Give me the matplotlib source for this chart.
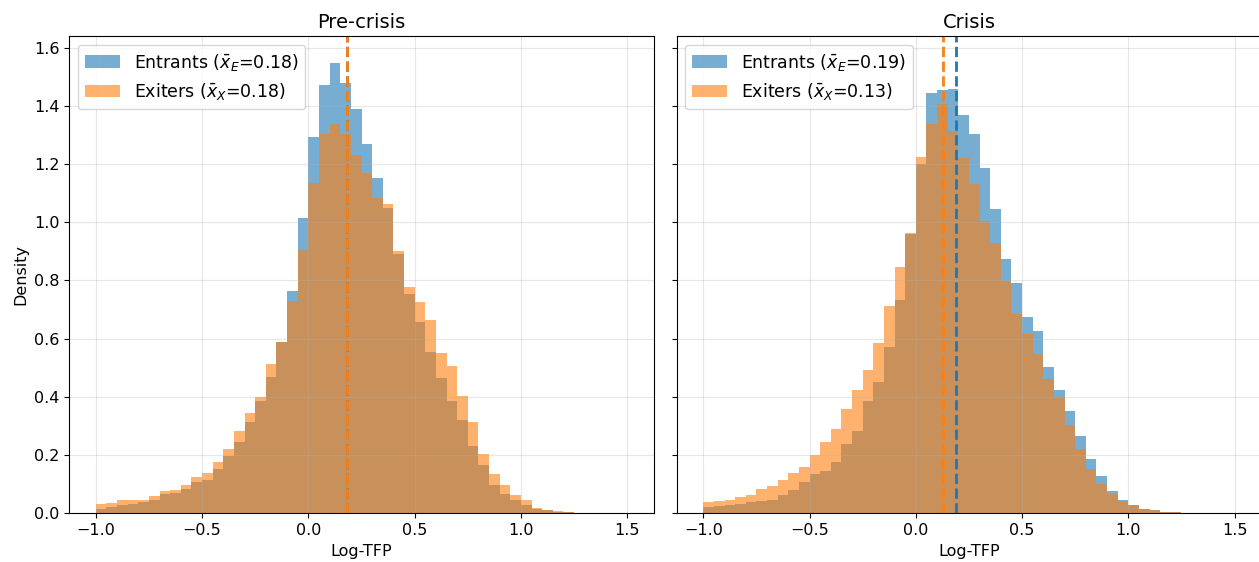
import matplotlib
matplotlib.use("agg")
import numpy as np
import matplotlib.pyplot as plt

# bin edges of the Log-TFP histograms (width 0.05)
BIN_LO = -1.0
BIN_HI = 1.5
N_BINS = 50

# density per bin
entrants_pre = [0.016, 0.022, 0.027, 0.031, 0.039, 0.044, 0.067, 0.070, 0.084, 0.107,
                0.113, 0.153, 0.198, 0.244, 0.312, 0.386, 0.468, 0.589, 0.765, 1.013,
                1.292, 1.472, 1.546, 1.477, 1.389, 1.270, 1.151, 1.050, 0.890, 0.753,
                0.656, 0.553, 0.465, 0.387, 0.319, 0.230, 0.165, 0.096, 0.067, 0.045,
                0.027, 0.016, 0.010, 0.006, 0.003, 0.002, 0.001, 0.001, 0.0, 0.0]
exiters_pre = [0.031, 0.036, 0.044, 0.044, 0.046, 0.058, 0.076, 0.081, 0.096, 0.126,
               0.138, 0.175, 0.221, 0.284, 0.346, 0.401, 0.512, 0.589, 0.728, 0.905,
               1.136, 1.304, 1.338, 1.304, 1.230, 1.170, 1.085, 1.064, 0.902, 0.776,
               0.725, 0.664, 0.550, 0.507, 0.402, 0.313, 0.205, 0.136, 0.096, 0.062,
               0.045, 0.018, 0.013, 0.007, 0.003, 0.002, 0.001, 0.001, 0.0, 0.0]
entrants_cri = [0.022, 0.025, 0.027, 0.033, 0.038, 0.042, 0.047, 0.062, 0.079, 0.107,
                0.134, 0.147, 0.176, 0.237, 0.282, 0.387, 0.450, 0.570, 0.733, 0.959,
                1.200, 1.445, 1.456, 1.459, 1.370, 1.302, 1.187, 1.045, 0.873, 0.793,
                0.673, 0.627, 0.504, 0.425, 0.351, 0.265, 0.187, 0.127, 0.077, 0.045,
                0.027, 0.016, 0.010, 0.006, 0.003, 0.002, 0.001, 0.001, 0.0, 0.0]
exiters_cri = [0.039, 0.043, 0.047, 0.056, 0.062, 0.085, 0.095, 0.115, 0.138, 0.159,
               0.199, 0.245, 0.290, 0.359, 0.424, 0.493, 0.584, 0.713, 0.847, 0.962,
               1.224, 1.336, 1.405, 1.313, 1.222, 1.130, 1.005, 0.930, 0.799, 0.685,
               0.616, 0.547, 0.462, 0.399, 0.302, 0.222, 0.153, 0.102, 0.067, 0.041,
               0.027, 0.016, 0.010, 0.006, 0.003, 0.002, 0.001, 0.001, 0.0, 0.0]

# group means (entrants, exiters)
means_pre = [0.181, 0.181]
means_cri = [0.187, 0.126]

titles = ["Pre-crisis", "Crisis"]


def plot_panel(ax, edges, entr, exit_, means, title):
    centers = 0.5 * (edges[:-1] + edges[1:])
    ax.hist(centers, bins=edges, weights=entr, alpha=0.6, color="C0",
            label=r"Entrants ($\bar{x}_E$=%.2f)" % means[0])
    ax.hist(centers, bins=edges, weights=exit_, alpha=0.6, color="C1",
            label=r"Exiters ($\bar{x}_X$=%.2f)" % means[1])
    ax.axvline(means[0], color="C0", linestyle="--", linewidth=2)
    ax.axvline(means[1], color="C1", linestyle="--", linewidth=2)
    ax.set_title(title, fontsize=14)
    ax.set_xlabel("Log-TFP", fontsize=11.5)
    ax.grid(True, alpha=0.3)
    ax.legend(loc="upper left", fontsize=12.5)
    ax.set_xlim(-1.125, 1.625)
    ax.set_ylim(0, 1.64)
    ax.set_xticks([-1.0, -0.5, 0.0, 0.5, 1.0, 1.5])
    ax.tick_params(labelsize=11.5)


def main():
    W, H = 1259, 562
    fig = plt.figure(figsize=(W / 100.0, H / 100.0), dpi=100)
    bottom = (H - 513.3) / H
    height = (513.3 - 36.0) / H
    width = 584.4 / W
    ax1 = fig.add_axes([69.3 / W, bottom, width, height])
    ax2 = fig.add_axes([676.7 / W, bottom, width, height], sharey=ax1)

    edges = np.linspace(BIN_LO, BIN_HI, N_BINS + 1)
    plot_panel(ax1, edges, entrants_pre, exiters_pre, means_pre, titles[0])
    plot_panel(ax2, edges, entrants_cri, exiters_cri, means_cri, titles[1])
    ax1.set_ylabel("Density", fontsize=11.5)
    plt.setp(ax2.get_yticklabels(), visible=False)

    fig.savefig("out.png", dpi=100)


if __name__ == "__main__":
    main()
